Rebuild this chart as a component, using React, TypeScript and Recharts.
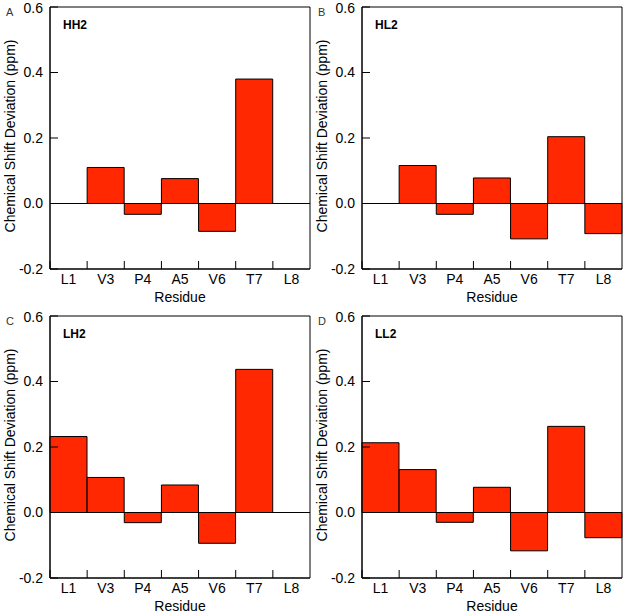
import { BarChart, Bar, XAxis, YAxis, ReferenceLine, ReferenceArea } from "recharts";

// residues along the x axis
const residues = ["L1", "V3", "P4", "A5", "V6", "T7", "L8"];

// chemical shift deviations (ppm), one list per peptide
const hh2 = [0, 0.11, -0.033, 0.076, -0.085, 0.38, 0];
const hl2 = [0, 0.116, -0.033, 0.078, -0.108, 0.204, -0.092];
const lh2 = [0.232, 0.107, -0.031, 0.084, -0.094, 0.437, 0];
const ll2 = [0.213, 0.131, -0.03, 0.077, -0.117, 0.263, -0.077];

const yTicks = [-0.2, 0, 0.2, 0.4, 0.6];
const Y_MIN = -0.2;
const Y_MAX = 0.6;

const FONT = "'Liberation Sans', Arial, sans-serif";
const BAR_COLOR = "#ff2800";

const W = 312;
const H = 306;
const M = { top: 7, right: 2, left: 0, bottom: 0 };
const Y_W = 50;
const X_H = 37;
const PLOT_W = W - M.left - M.right - Y_W;
const PLOT_H = H - M.top - M.bottom - X_H;
// 8px tick mark expressed in ppm
const TICK_Y = 8 / (PLOT_H / (Y_MAX - Y_MIN));

interface PanelProps {
  letter: string;
  name: string;
  values: number[];
  left: number;
  top: number;
}

function Panel({ letter, name, values, left, top }: PanelProps) {
  const data = residues.map((r, i) => ({ residue: r, value: values[i] }));
  const plotTop = M.top;
  const plotBottom = H - M.bottom - X_H;
  const plotLeft = M.left + Y_W;

  return (
    <div
      style={{
        position: "absolute",
        left,
        top,
        width: W,
        height: H,
        fontFamily: FONT,
        fontSize: 14,
      }}
    >
      <BarChart width={W} height={H} data={data} margin={M} barCategoryGap={0}>
        <XAxis
          dataKey="residue"
          height={X_H}
          interval={0}
          stroke="#000"
          tickSize={0}
          tickMargin={5}
        />
        <YAxis
          width={Y_W}
          domain={[Y_MIN, Y_MAX]}
          ticks={yTicks}
          stroke="#000"
          tickSize={-8}
          tickMargin={15}
          tickFormatter={(v: number) => v.toFixed(1)}
        />
        <Bar
          dataKey="value"
          fill={BAR_COLOR}
          stroke="#000"
          strokeWidth={1}
          isAnimationActive={false}
        />
        <ReferenceLine y={0} stroke="#000" strokeWidth={1} />
        {residues.map((r) => (
          <ReferenceLine
            key={`s${r}`}
            position="start"
            segment={[
              { x: r, y: Y_MIN },
              { x: r, y: Y_MIN + TICK_Y },
            ]}
            stroke="#000"
            strokeWidth={1}
          />
        ))}
        <ReferenceLine
          position="end"
          segment={[
            { x: residues[residues.length - 1], y: Y_MIN },
            { x: residues[residues.length - 1], y: Y_MIN + TICK_Y },
          ]}
          stroke="#000"
          strokeWidth={1}
        />
        <ReferenceArea
          y1={Y_MIN}
          y2={Y_MAX}
          fill="none"
          fillOpacity={0}
          stroke="#000"
          strokeWidth={1}
          strokeOpacity={1}
        />
      </BarChart>
      <div
        style={{
          position: "absolute",
          left: 10,
          top: (plotTop + plotBottom) / 2 - 2,
          transform: "translate(-50%, -50%) rotate(-90deg)",
          whiteSpace: "nowrap",
          fontSize: 14,
          lineHeight: "14px",
          color: "#000",
        }}
      >
        Chemical Shift Deviation (ppm)
      </div>
      <div
        style={{
          position: "absolute",
          left: plotLeft + PLOT_W / 2,
          top: plotBottom + 21,
          transform: "translateX(-50%)",
          whiteSpace: "nowrap",
          fontSize: 14,
          lineHeight: "14px",
          color: "#000",
        }}
      >
        Residue
      </div>
      <div
        style={{
          position: "absolute",
          left: 6,
          top: 7,
          fontSize: 11,
          lineHeight: "11px",
          color: "#333",
        }}
      >
        {letter}
      </div>
      <div
        style={{
          position: "absolute",
          left: plotLeft + 13,
          top: plotTop + 12,
          fontSize: 12,
          lineHeight: "12px",
          fontWeight: "bold",
          color: "#000",
        }}
      >
        {name}
      </div>
    </div>
  );
}

export default function App() {
  return (
    <div
      style={{
        position: "absolute",
        left: 0,
        top: 0,
        width: 629,
        height: 616,
        background: "#fff",
      }}
    >
      <Panel letter="A" name="HH2" values={hh2} left={0} top={0} />
      <Panel letter="B" name="HL2" values={hl2} left={312} top={0} />
      <Panel letter="C" name="LH2" values={lh2} left={0} top={309} />
      <Panel letter="D" name="LL2" values={ll2} left={312} top={309} />
    </div>
  );
}
